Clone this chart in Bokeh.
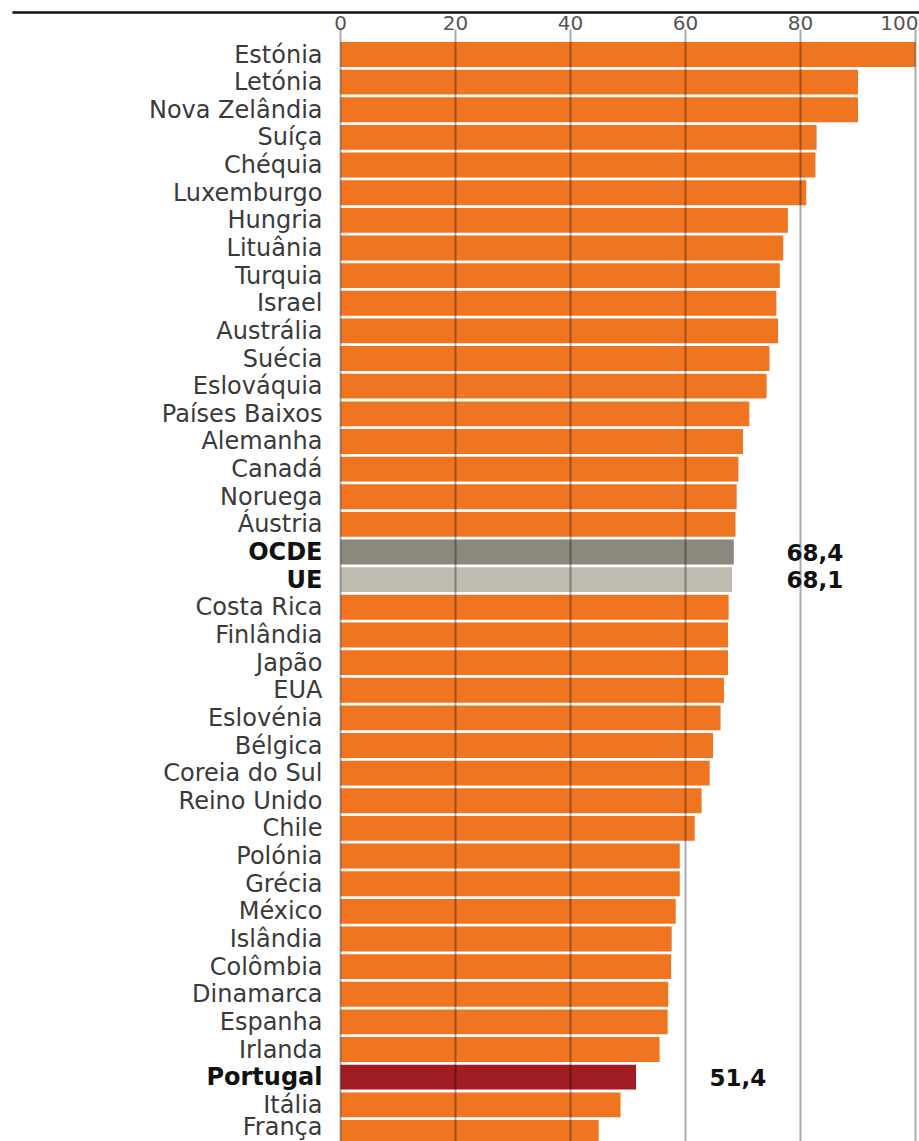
from bokeh.plotting import figure
from bokeh.models import Range1d, ColumnDataSource
from bokeh.core.properties import value
from bokeh.embed import file_html
from bokeh.resources import INLINE

# ---------------- data ----------------
countries = ["Estónia", "Letónia", "Nova Zelândia", "Suíça", "Chéquia", "Luxemburgo",
             "Hungria", "Lituânia", "Turquia", "Israel", "Austrália", "Suécia",
             "Eslováquia", "Países Baixos", "Alemanha", "Canadá", "Noruega", "Áustria",
             "OCDE", "UE", "Costa Rica", "Finlândia", "Japão", "EUA", "Eslovénia",
             "Bélgica", "Coreia do Sul", "Reino Unido", "Chile", "Polónia", "Grécia",
             "México", "Islândia", "Colômbia", "Dinamarca", "Espanha", "Irlanda",
             "Portugal", "Itália", "França"]
values = [100.0, 90.0, 90.0, 82.8, 82.6, 81.0, 77.8, 77.0, 76.4, 75.8, 76.1, 74.6,
          74.1, 71.1, 70.0, 69.2, 68.9, 68.7, 68.4, 68.1, 67.5, 67.4, 67.4, 66.7,
          66.1, 64.8, 64.2, 62.8, 61.6, 59.0, 59.0, 58.3, 57.6, 57.5, 57.0, 56.9,
          55.5, 51.4, 48.7, 44.9]
ticks = [0, 20, 40, 60, 80, 100]
tick_labels = ["0", "20", "40", "60", "80", "100"]
highlight_colors = {"OCDE": "#8B897D", "UE": "#BEBCB1", "Portugal": "#A11D23"}
value_labels = {"OCDE": "68,4", "UE": "68,1", "Portugal": "51,4"}

# ---------------- layout constants ----------------
W, H = 919, 1141
PX_PER_UNIT = 5.75
X0_PX = 340
ROW_PX = 27.64
ROW0_PX = 54
BAR_COLOR = "#EF7521"

def ypx(px):
    return (px - ROW0_PX) / ROW_PX

def xpx(px):
    return (px - X0_PX) / PX_PER_UNIT

x_start, x_end = xpx(0), xpx(W)
y_top, y_bottom = ypx(0), ypx(H)

p = figure(width=W, height=H, output_backend="svg", toolbar_location=None,
           x_range=Range1d(x_start, x_end), y_range=Range1d(y_bottom, y_top),
           x_axis_location=None, y_axis_location=None,
           min_border=0, min_border_left=0, min_border_right=0,
           min_border_top=0, min_border_bottom=0)
p.grid.visible = False
p.outline_line_color = None
p.background_fill_color = "white"
p.border_fill_color = "white"

idx = list(range(len(countries)))
colors = [highlight_colors.get(c, BAR_COLOR) for c in countries]
src = ColumnDataSource(dict(y=idx, v=values, color=colors, name=countries))

p.hbar(y="y", left=0, right="v", height=0.9, fill_color="color",
       line_color=None, source=src)

# grid lines over bars
p.segment(x0=ticks, y0=[ypx(29)] * len(ticks), x1=ticks, y1=[y_bottom] * len(ticks),
          line_color="black", line_alpha=0.33, line_width=2)

# top rule
p.segment(x0=[xpx(12)], y0=[ypx(12)], x1=[x_end], y1=[ypx(12)],
          line_color="#111111", line_width=2.5)

# tick labels
p.text(x=ticks[:-1], y=[ypx(22)] * (len(ticks) - 1), text=tick_labels[:-1],
       text_align="center", text_baseline="middle", text_font=value("DejaVu Sans"),
       text_font_size="20px", text_color="#555555")
p.text(x=ticks[-1:], y=[ypx(22)], text=tick_labels[-1:], x_offset=3,
       text_align="right", text_baseline="middle", text_font=value("DejaVu Sans"),
       text_font_size="20px", text_color="#555555")

# category labels
norm = [i for i, c in enumerate(countries) if c not in highlight_colors]
bold = [i for i, c in enumerate(countries) if c in highlight_colors]
lab_x = xpx(322)
last = len(countries) - 1
norm_main = [i for i in norm if i != last]
p.text(x=[lab_x] * len(norm_main), y=norm_main, text=[countries[i] for i in norm_main],
       text_align="right", text_baseline="middle", text_font=value("DejaVu Sans"),
       text_font_size="24px", text_color="#3a3a3a")
# last row sits at the picture's lower edge: lift it slightly so it stays whole
p.text(x=[lab_x], y=[last], text=[countries[last]], y_offset=-5,
       text_align="right", text_baseline="middle", text_font=value("DejaVu Sans"),
       text_font_size="24px", text_color="#3a3a3a")
p.text(x=[lab_x] * len(bold), y=bold, text=[countries[i] for i in bold],
       text_align="right", text_baseline="middle", text_font=value("DejaVu Sans"),
       text_font_style="bold", text_font_size="24px", text_color="#111111")

# value labels
val_x = {"OCDE": xpx(786), "UE": xpx(786), "Portugal": xpx(709)}
vl = [c for c in countries if c in value_labels]
p.text(x=[val_x[c] for c in vl], y=[countries.index(c) for c in vl],
       text=[value_labels[c] for c in vl], text_align="left", text_baseline="middle",
       text_font=value("DejaVu Sans"), text_font_style="bold",
       text_font_size="23px", text_color="#111111")

open("out.html", "w").write(file_html(p, INLINE))
